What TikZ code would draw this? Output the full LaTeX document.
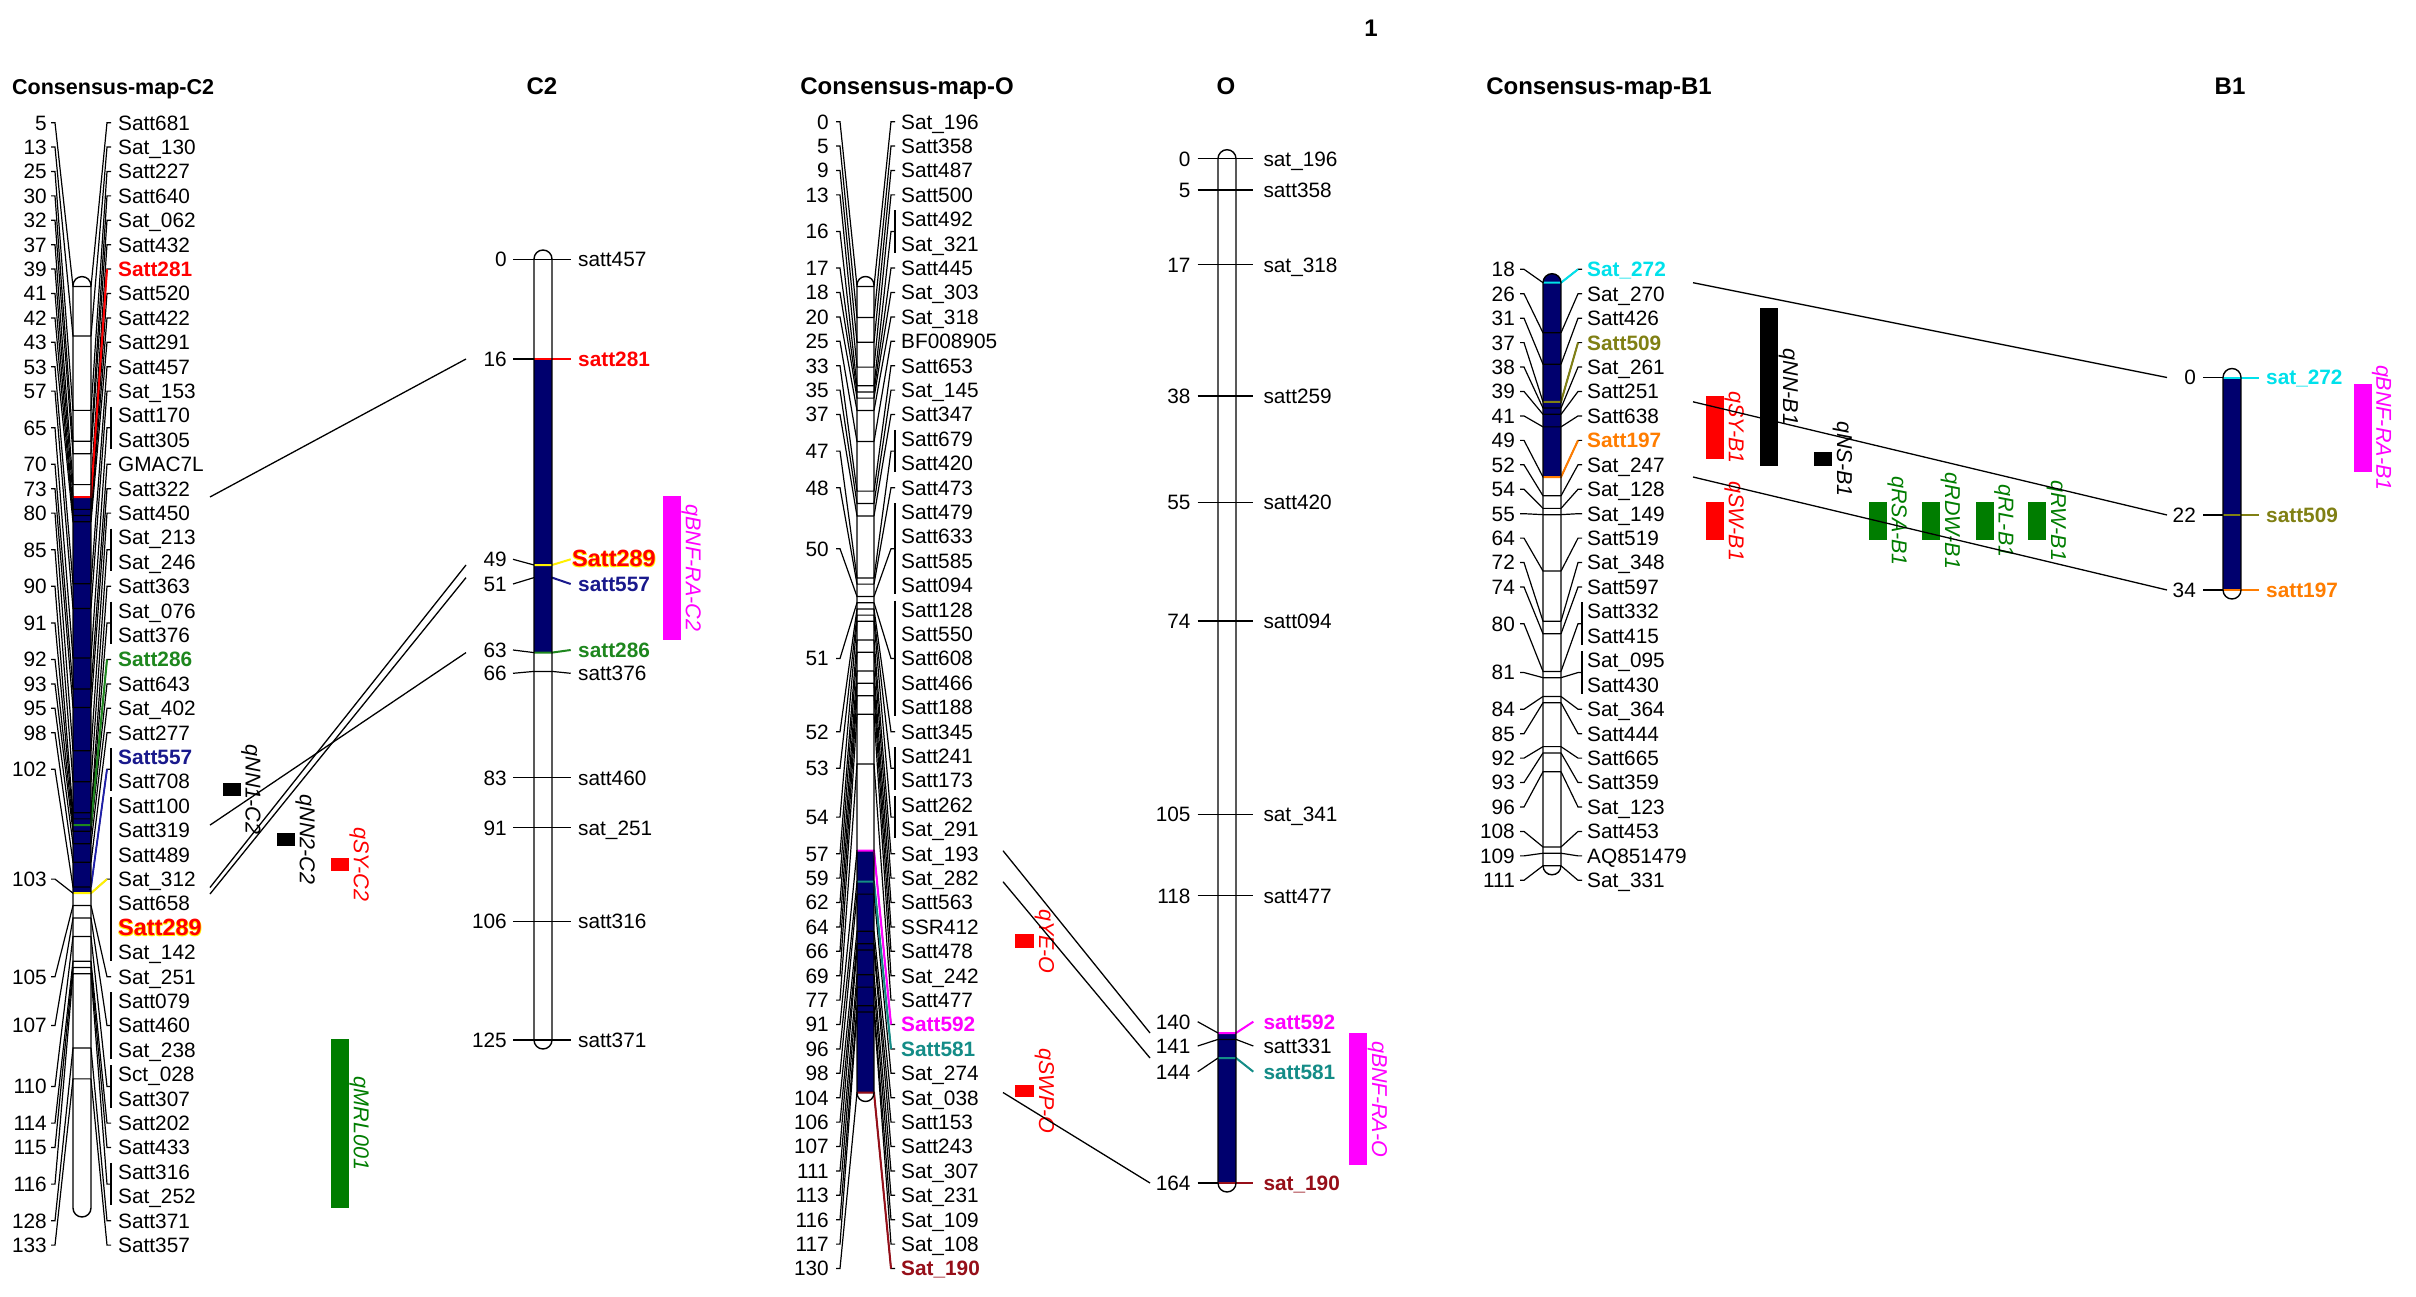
\documentclass[tikz,border=0pt]{standalone}
\usepackage{fontspec}
\setmainfont{Liberation Sans}
\definecolor{navyb}{RGB}{0,0,110}
\definecolor{navyt}{RGB}{25,25,140}
\definecolor{bluel}{RGB}{30,30,170}
\definecolor{mred}{RGB}{255,0,0}
\definecolor{sgreen}{RGB}{30,135,30}
\definecolor{qgreen}{RGB}{0,125,0}
\definecolor{mag}{RGB}{255,0,255}
\definecolor{tealc}{RGB}{20,140,135}
\definecolor{dred}{RGB}{150,15,25}
\definecolor{cyanc}{RGB}{0,225,235}
\definecolor{olivec}{RGB}{128,128,20}
\definecolor{orangec}{RGB}{255,125,0}
\definecolor{yel}{RGB}{255,240,0}
\newcommand\mk[2]{\textcolor{#1}{\bfseries #2}}
\newcommand\glowt[1]{%
 \makebox[0pt][l]{\hspace*{-0.8pt}\raisebox{-0.9pt}{\textcolor{yel}{#1}}}%
 \makebox[0pt][l]{\hspace*{0.6pt}\raisebox{-0.9pt}{\textcolor{yel}{#1}}}%
 \textcolor{mred}{#1}}
\newcommand\bigglow[1]{{\fontsize{23.5}{26}\selectfont\bfseries\glowt{#1}}}
\tikzset{
 lab/.style={font=\fontsize{20.8}{24}\selectfont, inner sep=0pt, text height=14.8pt, text depth=0pt},
 num/.style={lab},
 fan/.style={line width=1.2pt, black},
 mline/.style={line width=2pt},
 chrom/.style={line width=1.4pt, black},
 conn/.style={line width=1.3pt, black},
 qtl/.style={font=\fontsize{21.5}{24}\selectfont\itshape, inner sep=0pt, text height=15.4pt, text depth=0pt, rotate=-90, anchor=center},
 head/.style={font=\fontsize{24}{28}\selectfont\bfseries, inner sep=0pt, text height=17.2pt, text depth=0pt},
}
\newcommand\consgroups[1]{%
 \foreach \gc/\ga/\gb in {#1}{%
  \pgfmathsetmacro\yc{\gYo+(\ga+\gb)/2*\gDy}%
  \pgfmathsetmacro\yk{\gCa+\gCb*\gc}%
  \node[num,anchor=east] (\gP n\gc) at (\gXn,\yc) {\gc};
  \draw[fan] (\gXl,\yc) -- (\gXm,\yc) -- (\gXL,\yk) -- (\gXR,\yk);
  \draw[fan] (\gXb,\yc) -- (\gXs,\yc) -- (\gXR,\yk);
  \ifnum\ga<\gb
   \pgfmathsetmacro\ya{\gYo+\ga*\gDy-9}%
   \pgfmathsetmacro\yb{\gYo+\gb*\gDy+9}%
   \draw[fan] (\gXb,\ya) -- (\gXb,\yb);
  \fi
 }}
\newcommand\conslabels[1]{%
 \foreach \lbl [count=\li from 0] in {#1}{%
  \node[lab,anchor=west] (\gP l\li) at (\gXt,{\gYo+\li*\gDy}) {\lbl};
 }}
\newcommand\qtlbar[7]{%
 \fill[#6] (#2,#3) rectangle (#4,#5);
 \node[qtl,text=#6] (#1) at ({#4+12.5},{(#3+#5)/2}) {#7};}
\begin{document}
\begin{tikzpicture}[x=1pt,y=-1pt]
\useasboundingbox (0,0) rectangle (2416,1297);
\fill[white] (0,0) rectangle (2416,1297);

% ---------- title and headers
\node[head] (title) at (1371,28) {1};
\node[head,anchor=west,font=\fontsize{21.5}{26}\selectfont\bfseries] (hC2c) at (12,86) {Consensus-map-C2};
\node[head] (hC2) at (542,86) {C2};
\node[head] (hOc) at (907,86) {Consensus-map-O};
\node[head] (hO) at (1226,86) {O};
\node[head] (hB1c) at (1599,86) {Consensus-map-B1};
\node[head] (hB1) at (2230,86) {B1};

% ================= Consensus-map-C2
\def\gP{C2}\def\gXn{47}\def\gXl{51}\def\gXm{55}\def\gXL{73}\def\gXR{91}
\def\gXs{107}\def\gXb{111}\def\gXt{118}\def\gYo{122.7}\def\gDy{24.4}
\def\gCa{255.6}\def\gCb{6.19}
\fill[white,rounded corners=9pt] (73,276.6) rectangle (91,1217);
\begin{scope}
 \clip[rounded corners=9pt] (73,276.6) rectangle (91,1217);
 \fill[navyb] (73,497) rectangle (91,893.2);
\end{scope}
\consgroups{5/0/0,13/1/1,25/2/2,30/3/3,32/4/4,37/5/5,39/6/6,41/7/7,42/8/8,43/9/9,53/10/10,57/11/11,65/12/13,70/14/14,73/15/15,80/16/16,85/17/18,90/19/19,91/20/21,92/22/22,93/23/23,95/24/24,98/25/25,102/26/27,103/28/34,105/35/35,107/36/38,110/39/40,114/41/41,115/42/42,116/43/44,128/45/45,133/46/46}
\draw[mred,mline] (107,269.1) -- (91,497) -- (73,497);
\draw[sgreen,mline] (107,659.5) -- (91,825.1) -- (73,825.1);
\draw[bluel,line width=1.8pt] (107,769.3) -- (91,887);
\draw[yel,mline] (107,879.1) -- (91,893.2) -- (73,893.2);
\draw[chrom,rounded corners=9pt] (73,276.6) rectangle (91,1217);
\conslabels{Satt681,Sat\_130,Satt227,Satt640,Sat\_062,Satt432,\mk{mred}{Satt281},Satt520,Satt422,Satt291,Satt457,Sat\_153,Satt170,Satt305,GMAC7L,Satt322,Satt450,Sat\_213,Sat\_246,Satt363,Sat\_076,Satt376,\mk{sgreen}{Satt286},Satt643,Sat\_402,Satt277,\mk{navyt}{Satt557},Satt708,Satt100,Satt319,Satt489,Sat\_312,Satt658,\bigglow{Satt289},Sat\_142,Sat\_251,Satt079,Satt460,Sat\_238,Sct\_028,Satt307,Satt202,Satt433,Satt316,Sat\_252,Satt371,Satt357}

% ================= C2 linkage map
\fill[white,rounded corners=9pt] (534,250) rectangle (552,1049);
\begin{scope}
 \clip[rounded corners=9pt] (534,250) rectangle (552,1049);
 \fill[navyb] (534,359) rectangle (552,652.6);
\end{scope}
\draw[fan] (513,259.3) -- (570.7,259.3);
\draw[fan] (513,359) -- (534,359);
\draw[mred,mline] (534,359) -- (570.7,359);
\draw[fan] (513,559.3) -- (534,565);
\draw[yel,mline] (534,565) -- (552,565) -- (570.7,559.3);
\draw[fan] (513,584) -- (534,577.6);
\draw[navyt,mline] (552,577.6) -- (570.7,584);
\draw[fan] (513,650) -- (534,652.6);
\draw[sgreen,mline] (534,652.6) -- (552,652.6) -- (570.7,650);
\draw[fan] (513,673.3) -- (534,671.4) -- (552,671.4) -- (570.7,673.3);
\foreach \yy in {777.6,827.6,921.3,1040} \draw[fan] (513,\yy) -- (570.7,\yy);
\draw[chrom,rounded corners=9pt] (534,250) rectangle (552,1049);
\foreach \nm/\yy/\lb in {0/259.3/satt457,16/359/\mk{mred}{satt281},51/584/\mk{navyt}{satt557},63/650/\mk{sgreen}{satt286},66/673.3/satt376,83/777.6/satt460,91/827.6/sat\_251,106/921.3/satt316,125/1040/satt371}{
 \node[num,anchor=east] (Cn\nm) at (507,\yy) {\nm};
 \node[lab,anchor=west] (Cl\nm) at (578,\yy) {\lb};}
\node[num,anchor=east] (Cn49) at (507,559.3) {49};
\node[lab,anchor=west] (Cl49) at (572,559.3) {\bigglow{Satt289}};

% QTLs of C2
\qtlbar{qNNa}{222.7}{783}{240.7}{796}{black}{qNN1-C2}
\qtlbar{qNNb}{277}{833}{295}{846}{black}{qNN2-C2}
\qtlbar{qSYc}{331}{858}{349}{871}{mred}{qSY-C2}
\qtlbar{qMRL}{331}{1039}{349}{1208}{qgreen}{qMRL001}
\qtlbar{qBNFc}{662.7}{496}{681}{640}{mag}{qBNF-RA-C2}

% ================= Consensus-map-O
\def\gP{O}\def\gXn{829}\def\gXl{836}\def\gXm{840}\def\gXL{857}\def\gXR{874}
\def\gXs{891}\def\gXb{895}\def\gXt{901}\def\gYo{121.7}\def\gDy{24.4}
\def\gCa{286.5}\def\gCb{6.2}
\fill[white,rounded corners=8.5pt] (857,276.5) rectangle (874,1101.5);
\begin{scope}
 \clip[rounded corners=8.5pt] (857,276.5) rectangle (874,1101.5);
 \fill[navyb] (857,850.7) rectangle (874,1092.5);
\end{scope}
\consgroups{0/0/0,5/1/1,9/2/2,13/3/3,16/4/5,17/6/6,18/7/7,20/8/8,25/9/9,33/10/10,35/11/11,37/12/12,47/13/14,48/15/15,50/16/19,51/20/24,52/25/25,53/26/27,54/28/29,57/30/30,59/31/31,62/32/32,64/33/33,66/34/34,69/35/35,77/36/36,91/37/37,96/38/38,98/39/39,104/40/40,106/41/41,107/42/42,111/43/43,113/44/44,116/45/45,117/46/46,130/47/47}
\draw[mag,mline] (891,1024.5) -- (874,850.7) -- (857,850.7);
\draw[tealc,mline] (891,1048.9) -- (874,881.7) -- (857,881.7);
\draw[dred,mline] (891,1268.5) -- (874,1092.5) -- (857,1092.5);
\draw[chrom,rounded corners=8.5pt] (857,276.5) rectangle (874,1101.5);
\conslabels{Sat\_196,Satt358,Satt487,Satt500,Satt492,Sat\_321,Satt445,Sat\_303,Sat\_318,BF008905,Satt653,Sat\_145,Satt347,Satt679,Satt420,Satt473,Satt479,Satt633,Satt585,Satt094,Satt128,Satt550,Satt608,Satt466,Satt188,Satt345,Satt241,Satt173,Satt262,Sat\_291,Sat\_193,Sat\_282,Satt563,SSR412,Satt478,Sat\_242,Satt477,\mk{mag}{Satt592},\mk{tealc}{Satt581},Sat\_274,Sat\_038,Satt153,Satt243,Sat\_307,Sat\_231,Sat\_109,Sat\_108,\mk{dred}{Sat\_190}}

% ================= O linkage map
\fill[white,rounded corners=9pt] (1218,149.7) rectangle (1236,1192);
\begin{scope}
 \clip[rounded corners=9pt] (1218,149.7) rectangle (1236,1192);
 \fill[navyb] (1218,1033) rectangle (1236,1183);
\end{scope}
\foreach \yy in {158.7,190,264.9,396,502.2,620.9,814.5,895.7} \draw[fan] (1197.7,\yy) -- (1253.3,\yy);
\draw[fan] (1197.7,1021.7) -- (1218,1033);
\draw[mag,mline] (1218,1033) -- (1236,1033) -- (1253.3,1021.7);
\draw[fan] (1197.7,1046) -- (1218,1039.4) -- (1236,1039.4) -- (1253.3,1046);
\draw[fan] (1197.7,1071.7) -- (1218,1058);
\draw[tealc,mline] (1218,1058) -- (1236,1058) -- (1253.3,1071.7);
\draw[fan] (1197.7,1183) -- (1218,1183);
\draw[dred,mline] (1218,1183) -- (1253.3,1183);
\draw[chrom,rounded corners=9pt] (1218,149.7) rectangle (1236,1192);
\foreach \nm/\yy/\lb in {0/158.7/sat\_196,5/190/satt358,17/264.9/sat\_318,38/396/satt259,55/502.2/satt420,74/620.9/satt094,105/814.5/sat\_341,118/895.7/satt477,140/1021.7/\mk{mag}{satt592},141/1046/satt331,144/1071.7/\mk{tealc}{satt581},164/1183/\mk{dred}{sat\_190}}{
 \node[num,anchor=east] (Pn\nm) at (1190.7,\yy) {\nm};
 \node[lab,anchor=west] (Pl\nm) at (1263.3,\yy) {\lb};}

% QTLs of O
\qtlbar{qYE}{1015.3}{934.4}{1034.3}{948.3}{mred}{qYE-O}
\qtlbar{qSWP}{1015.3}{1085}{1034.3}{1097}{mred}{qSWP-O}
\qtlbar{qBNFo}{1349}{1033}{1367.3}{1165}{mag}{qBNF-RA-O}

% ================= Consensus-map-B1
\def\gP{B}\def\gXn{1515}\def\gXl{1520}\def\gXm{1524}\def\gXL{1543}\def\gXR{1561}
\def\gXs{1578}\def\gXb{1582}\def\gXt{1587}\def\gYo{269.3}\def\gDy{24.44}
\def\gCa{169.8}\def\gCb{6.27}
\fill[white,rounded corners=9pt] (1543,273.7) rectangle (1561,874.8);
\begin{scope}
 \clip[rounded corners=9pt] (1543,273.7) rectangle (1561,874.8);
 \fill[navyb] (1543,270) rectangle (1561,477);
\end{scope}
\consgroups{18/0/0,26/1/1,31/2/2,37/3/3,38/4/4,39/5/5,41/6/6,49/7/7,52/8/8,54/9/9,55/10/10,64/11/11,72/12/12,74/13/13,80/14/15,81/16/17,84/18/18,85/19/19,92/20/20,93/21/21,96/22/22,108/23/23,109/24/24,111/25/25}
\draw[cyanc,mline] (1578,269.3) -- (1561,282.7) -- (1543,282.7);
\draw[olivec,mline] (1578,342.6) -- (1561,401.8) -- (1543,401.8);
\draw[orangec,mline] (1578,440.4) -- (1561,477) -- (1543,477);
\draw[chrom,rounded corners=9pt] (1543,273.7) rectangle (1561,874.8);
\conslabels{\mk{cyanc}{Sat\_272},Sat\_270,Satt426,\mk{olivec}{Satt509},Sat\_261,Satt251,Satt638,\mk{orangec}{Satt197},Sat\_247,Sat\_128,Sat\_149,Satt519,Sat\_348,Satt597,Satt332,Satt415,Sat\_095,Satt430,Sat\_364,Satt444,Satt665,Satt359,Sat\_123,Satt453,AQ851479,Sat\_331}

% ================= B1 linkage map
\fill[white,rounded corners=9pt] (2223,368.5) rectangle (2241,599);
\begin{scope}
 \clip[rounded corners=9pt] (2223,368.5) rectangle (2241,599);
 \fill[navyb] (2223,377.5) rectangle (2241,590);
\end{scope}
\foreach \nm/\yy/\lb/\cl in {0/377.5/sat\_272/cyanc,22/515/satt509/olivec,34/590/satt197/orangec}{
 \draw[fan] (2203,\yy) -- (2223,\yy);
 \draw[\cl,mline] (2223,\yy) -- (2259,\yy);
 \node[num,anchor=east] (Qn\nm) at (2196,\yy) {\nm};
 \node[lab,anchor=west] (Ql\nm) at (2266,\yy) {\mk{\cl}{\lb}};}
\draw[chrom,rounded corners=9pt] (2223,368.5) rectangle (2241,599);

% QTLs of B1
\qtlbar{qSYb}{1706}{396}{1724}{459}{mred}{qSY-B1}
\qtlbar{qSWb}{1706}{502.3}{1724}{540}{mred}{qSW-B1}
\qtlbar{qNNb1}{1760}{308.3}{1778.3}{465.7}{black}{qNN-B1}
\qtlbar{qNSb}{1814}{452}{1832.3}{465.7}{black}{qNS-B1}
\qtlbar{qRSA}{1869}{502}{1887}{540}{qgreen}{qRSA-B1}
\qtlbar{qRDW}{1922.3}{502}{1940.3}{540}{qgreen}{qRDW-B1}
\qtlbar{qRL}{1975.7}{502}{1993.7}{540}{qgreen}{qRL-B1}
\qtlbar{qRW}{2028.3}{502}{2046.3}{540}{qgreen}{qRW-B1}
\qtlbar{qBNFb}{2353.5}{383.5}{2371.5}{472}{mag}{qBNF-RA-B1}

% ================= connectors between maps
\coordinate (c2a) at (210,497);   \coordinate (c2A) at (466,359);
\coordinate (c2b) at (210,825.1); \coordinate (c2B) at (466,652.6);
\coordinate (c2c) at (210,887.5); \coordinate (c2C) at (466,565);
\coordinate (c2d) at (210,894);   \coordinate (c2D) at (466,577.6);
\draw[conn] (c2a) -- (c2A);
\draw[conn] (c2b) -- (c2B);
\draw[conn] (c2c) -- (c2C);
\draw[conn] (c2d) -- (c2D);
\coordinate (oa) at (1003,850.7);  \coordinate (oA) at (1150,1033);
\coordinate (ob) at (1003,881.7);  \coordinate (oB) at (1150,1058);
\coordinate (oc) at (1003,1092.5); \coordinate (oC) at (1150,1183);
\draw[conn] (oa) -- (oA);
\draw[conn] (ob) -- (oB);
\draw[conn] (oc) -- (oC);
\coordinate (ba) at (1693,282.7); \coordinate (bA) at (2167,377.5);
\coordinate (bb) at (1693,401.8); \coordinate (bB) at (2167,515);
\coordinate (bc) at (1693,477);   \coordinate (bC) at (2167,590);
\draw[conn] (ba) -- (bA);
\draw[conn] (bb) -- (bB);
\draw[conn] (bc) -- (bC);
\end{tikzpicture}
\end{document}
